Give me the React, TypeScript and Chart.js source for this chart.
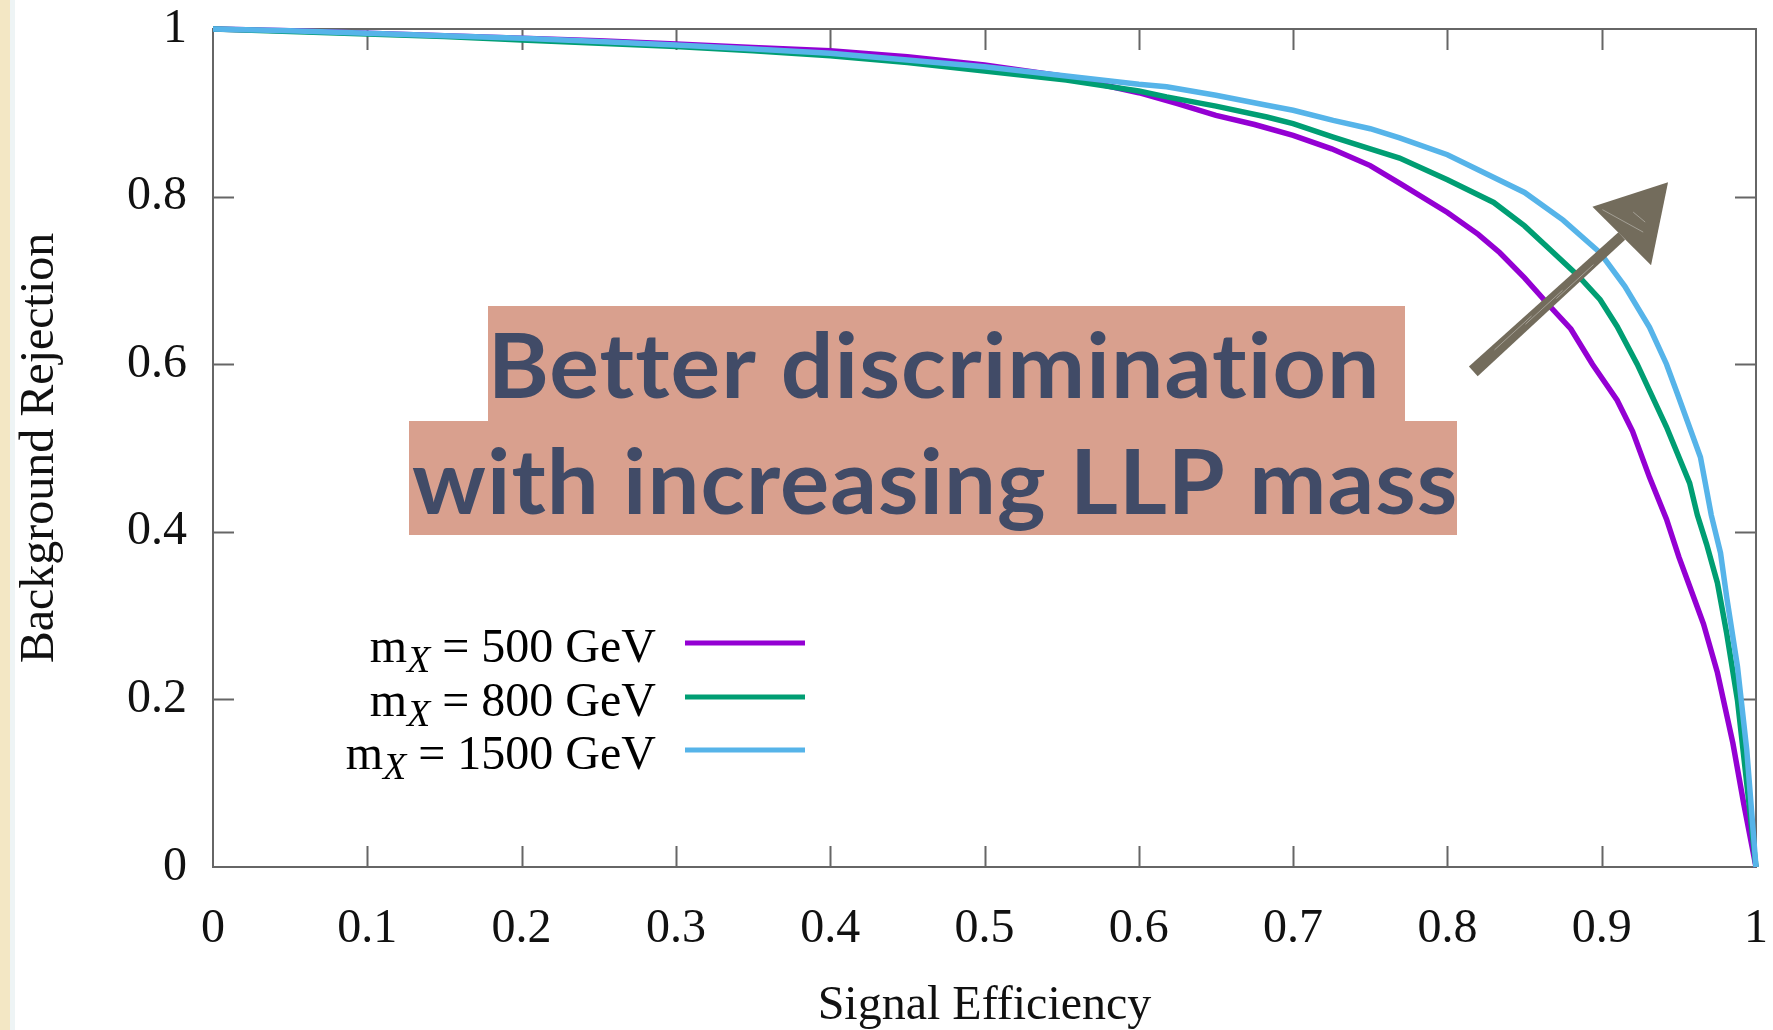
import React, { useEffect, useRef } from "react";
import { Chart, registerables } from "chart.js";

Chart.register(...registerables);

// ---------- data ----------
const massesGeV = [500, 800, 1500];
const seriesColors = ["#9400d3", "#009e73", "#56b4e9"];

const eff500 = [0, 0.05, 0.1, 0.15, 0.2, 0.25, 0.3, 0.35, 0.4, 0.45, 0.5, 0.55, 0.575, 0.6, 0.625, 0.65, 0.675, 0.7, 0.725, 0.75, 0.77, 0.8, 0.82, 0.834, 0.85, 0.867, 0.88, 0.894, 0.91, 0.92, 0.931, 0.942, 0.95, 0.957, 0.966, 0.975, 0.985, 0.992, 1.0];
const rej500 = [1.0, 0.998, 0.995, 0.992, 0.989, 0.986, 0.982, 0.978, 0.974, 0.967, 0.957, 0.944, 0.934, 0.924, 0.911, 0.897, 0.886, 0.873, 0.857, 0.837, 0.815, 0.781, 0.755, 0.733, 0.703, 0.668, 0.642, 0.6, 0.557, 0.52, 0.465, 0.415, 0.37, 0.335, 0.29, 0.232, 0.148, 0.076, 0];

const eff800 = [0, 0.05, 0.1, 0.15, 0.2, 0.25, 0.3, 0.35, 0.4, 0.45, 0.5, 0.553, 0.6, 0.618, 0.65, 0.683, 0.7, 0.726, 0.75, 0.769, 0.8, 0.83, 0.85, 0.867, 0.885, 0.899, 0.91, 0.923, 0.942, 0.957, 0.962, 0.968, 0.975, 0.981, 0.988, 0.994, 1.0];
const rej800 = [1.0, 0.997, 0.994, 0.991, 0.987, 0.983, 0.979, 0.974, 0.968, 0.96, 0.95, 0.939, 0.926, 0.919, 0.908, 0.895, 0.887, 0.871, 0.857, 0.846, 0.82, 0.793, 0.765, 0.736, 0.705, 0.677, 0.645, 0.6, 0.525, 0.458, 0.42, 0.385, 0.339, 0.279, 0.199, 0.1, 0];

const eff1500 = [0, 0.05, 0.1, 0.15, 0.2, 0.25, 0.3, 0.35, 0.4, 0.45, 0.5, 0.553, 0.6, 0.618, 0.65, 0.683, 0.7, 0.726, 0.75, 0.769, 0.8, 0.85, 0.875, 0.899, 0.915, 0.931, 0.942, 0.949, 0.964, 0.971, 0.977, 0.981, 0.988, 0.994, 1.0];
const rej1500 = [1.0, 0.998, 0.995, 0.992, 0.989, 0.985, 0.981, 0.976, 0.971, 0.963, 0.955, 0.944, 0.934, 0.931, 0.921, 0.909, 0.903, 0.891, 0.881, 0.87, 0.85, 0.805, 0.772, 0.733, 0.693, 0.644, 0.6, 0.565, 0.489, 0.42, 0.375, 0.322, 0.239, 0.14, 0];

const xTicks = [0, 0.1, 0.2, 0.3, 0.4, 0.5, 0.6, 0.7, 0.8, 0.9, 1];
const yTicks = [0, 0.2, 0.4, 0.6, 0.8, 1];

const xTitle = "Signal Efficiency";
const yTitle = "Background Rejection";
const annotationLines = ["Better discrimination", "with increasing LLP mass"];

// arrow annotation in data space: tail, tip, and the two head corners
const arrowTail = { x: 0.817, y: 0.591 };
const arrowTip = { x: 0.943, y: 0.817 };
const arrowHeadA = { x: 0.894, y: 0.788 };
const arrowHeadB = { x: 0.932, y: 0.718 };

const W = 1773;
const H = 1030;
const SERIF = "'Liberation Serif', 'DejaVu Serif', serif";
const FS = 48;

const fmt = (v: number) => String(Number(v.toFixed(2)));

const overlayPlugin = {
  id: "overlay",
  beforeDraw(chart: any) {
    const { ctx, width, height } = chart;
    ctx.save();
    ctx.fillStyle = "#ffffff";
    ctx.fillRect(0, 0, width, height);
    ctx.fillStyle = "#f3e7c4";
    ctx.fillRect(0, 0, 10, height);
    ctx.fillStyle = "#eef4f5";
    ctx.fillRect(10, 0, 5, height);
    ctx.restore();
  },
  beforeDatasetsDraw(chart: any) {
    const { ctx, chartArea, scales } = chart;
    const { left, right, top, bottom } = chartArea;
    const xs = scales.x;
    const ys = scales.y;
    ctx.save();
    ctx.strokeStyle = "#666666";
    ctx.lineWidth = 2;
    ctx.strokeRect(left, top, right - left, bottom - top);
    const tl = 21;
    ctx.beginPath();
    xTicks.forEach((v) => {
      if (v === 0 || v === 1) return;
      const px = Math.round(xs.getPixelForValue(v)) + 0.5;
      ctx.moveTo(px, bottom);
      ctx.lineTo(px, bottom - tl);
      ctx.moveTo(px, top);
      ctx.lineTo(px, top + tl);
    });
    yTicks.forEach((v) => {
      if (v === 0 || v === 1) return;
      const py = Math.round(ys.getPixelForValue(v)) + 0.5;
      ctx.moveTo(left, py);
      ctx.lineTo(left + tl, py);
      ctx.moveTo(right, py);
      ctx.lineTo(right - tl, py);
    });
    ctx.stroke();
    ctx.restore();
  },
  afterDatasetsDraw(chart: any) {
    const { ctx, scales } = chart;
    const xs = scales.x;
    const ys = scales.y;
    ctx.save();

    // ---- legend ----
    const textRight = 656;
    const lineX0 = 685;
    const lineX1 = 805;
    const rowY = [643, 697, 750];
    massesGeV.forEach((m, i) => {
      const y = rowY[i];
      const base = y + 19;
      const main = `${FS}px ${SERIF}`;
      const sub = `italic ${38}px ${SERIF}`;
      const rest = ` = ${m} GeV`;
      ctx.font = main;
      const wm = ctx.measureText("m").width;
      const wr = ctx.measureText(rest).width;
      ctx.font = sub;
      const wx = ctx.measureText("X").width;
      const x0 = textRight - (wm + wx + wr);
      ctx.fillStyle = "#000000";
      ctx.textBaseline = "alphabetic";
      ctx.textAlign = "left";
      ctx.font = main;
      ctx.fillText("m", x0, base);
      ctx.font = sub;
      ctx.fillText("X", x0 + wm, base + 10);
      ctx.font = main;
      ctx.fillText(rest, x0 + wm + wx, base);
      ctx.strokeStyle = seriesColors[i];
      ctx.lineWidth = 5;
      ctx.beginPath();
      ctx.moveTo(lineX0, y);
      ctx.lineTo(lineX1, y);
      ctx.stroke();
    });

    // ---- highlighted annotation ----
    const boxes = [
      { l: 488, t: 306, r: 1405, b: 421, tl: 495, tw: 880, base: 398 },
      { l: 409, t: 421, r: 1457, b: 535, tl: 412, tw: 1043, base: 514 },
    ];
    ctx.fillStyle = "#d9a08e";
    boxes.forEach((bx) => ctx.fillRect(bx.l, bx.t, bx.r - bx.l, bx.b - bx.t));
    ctx.fillStyle = "#414b67";
    ctx.font = "bold 89px Lato, 'Open Sans', sans-serif";
    try {
      (ctx as any).letterSpacing = "1px";
    } catch (e) {}
    ctx.textBaseline = "alphabetic";
    ctx.textAlign = "left";
    annotationLines.forEach((txt, i) => {
      const bx = boxes[i];
      const mt = ctx.measureText(txt);
      const gw = mt.actualBoundingBoxLeft + mt.actualBoundingBoxRight;
      const sx = bx.tw / gw;
      ctx.save();
      ctx.translate(bx.tl, bx.base);
      ctx.scale(sx, 1);
      ctx.fillText(txt, mt.actualBoundingBoxLeft, 0);
      ctx.restore();
    });
    try {
      (ctx as any).letterSpacing = "0px";
    } catch (e) {}

    // ---- sketchy arrow ----
    const P = (p: { x: number; y: number }) => ({ x: xs.getPixelForValue(p.x), y: ys.getPixelForValue(p.y) });
    const tail = P(arrowTail);
    const tip = P(arrowTip);
    const ha = P(arrowHeadA);
    const hb = P(arrowHeadB);
    const baseMid = { x: (ha.x + hb.x) / 2, y: (ha.y + hb.y) / 2 };
    const dx = baseMid.x - tail.x;
    const dy = baseMid.y - tail.y;
    const len = Math.hypot(dx, dy);
    const nx = -dy / len;
    const ny = dx / len;
    const col = "#736c5c";
    ctx.fillStyle = col;
    ctx.beginPath();
    ctx.moveTo(tail.x + nx * 6, tail.y + ny * 6);
    ctx.lineTo(baseMid.x + nx * 5, baseMid.y + ny * 5);
    ctx.lineTo(baseMid.x - nx * 5, baseMid.y - ny * 5);
    ctx.lineTo(tail.x - nx * 7, tail.y - ny * 7);
    ctx.closePath();
    ctx.fill();
    ctx.beginPath();
    ctx.moveTo(tip.x, tip.y);
    ctx.lineTo(ha.x, ha.y);
    ctx.lineTo(hb.x, hb.y);
    ctx.closePath();
    ctx.fill();
    // light streaks for a hand-drawn texture
    ctx.strokeStyle = "rgba(255,255,255,0.35)";
    ctx.lineWidth = 1;
    ctx.beginPath();
    for (let k = 0; k < 3; k++) {
      const o = -2 + k * 2;
      const s = 0.15 + k * 0.2;
      ctx.moveTo(tail.x + dx * s + nx * o, tail.y + dy * s + ny * o);
      ctx.lineTo(tail.x + dx * (s + 0.25) + nx * o, tail.y + dy * (s + 0.25) + ny * o);
    }
    const hc = { x: (tip.x + ha.x + hb.x) / 3, y: (tip.y + ha.y + hb.y) / 3 };
    ctx.moveTo(ha.x + 10, ha.y + 3);
    ctx.lineTo(hc.x + 6, hc.y + 14);
    ctx.moveTo(hc.x - 4, hc.y - 6);
    ctx.lineTo(hc.x + 8, hc.y + 4);
    ctx.stroke();

    ctx.restore();
  },
};

export default function App() {
  const ref = useRef<HTMLCanvasElement | null>(null);

  useEffect(() => {
    if (!ref.current) return;
    const effs = [eff500, eff800, eff1500];
    const rejs = [rej500, rej800, rej1500];
    const datasets = massesGeV.map((m, i) => ({
      label: `m_X = ${m} GeV`,
      data: effs[i].map((x, j) => ({ x, y: rejs[i][j] })),
      borderColor: seriesColors[i],
      backgroundColor: seriesColors[i],
      borderWidth: 5.5,
      pointRadius: 0,
      tension: 0,
      fill: false,
      clip: false as any,
      order: massesGeV.length - i,
    }));

    const tickFont = { family: SERIF, size: FS };
    const chart = new Chart(ref.current, {
      type: "line",
      data: { datasets },
      plugins: [overlayPlugin],
      options: {
        animation: false,
        responsive: false,
        maintainAspectRatio: false,
        layout: { padding: { top: 29, right: 17, left: 0, bottom: 0 } },
        plugins: { legend: { display: false }, tooltip: { enabled: false }, title: { display: false } },
        scales: {
          x: {
            type: "linear",
            min: 0,
            max: 1,
            afterBuildTicks: (s: any) => {
              s.ticks = xTicks.map((v) => ({ value: v }));
            },
            afterFit: (s: any) => {
              s.height = 163;
              s.paddingLeft = 0;
              s.paddingRight = 0;
              s.paddingTop = 0;
              s.paddingBottom = 0;
            },
            grid: { display: false, drawTicks: false },
            border: { display: false },
            ticks: {
              font: tickFont,
              color: "#111111",
              padding: 34,
              maxRotation: 0,
              autoSkip: false,
              callback: (v: any) => fmt(Number(v)),
            },
            title: {
              display: true,
              text: xTitle,
              font: { family: SERIF, size: FS, lineHeight: 1 },
              color: "#111111",
              padding: { top: 0, bottom: 0 },
            },
          },
          y: {
            type: "linear",
            min: 0,
            max: 1,
            afterBuildTicks: (s: any) => {
              s.ticks = yTicks.map((v) => ({ value: v }));
            },
            afterFit: (s: any) => {
              s.width = 213;
              s.paddingLeft = 0;
              s.paddingRight = 0;
              s.paddingTop = 0;
              s.paddingBottom = 0;
            },
            grid: { display: false, drawTicks: false },
            border: { display: false },
            ticks: {
              font: tickFont,
              color: "#111111",
              padding: 26,
              autoSkip: false,
              callback: (v: any) => fmt(Number(v)),
            },
            title: {
              display: true,
              text: yTitle,
              font: { family: SERIF, size: FS, lineHeight: 1 },
              color: "#111111",
              padding: { top: 16, bottom: 0 },
            },
          },
        },
      },
    });
    return () => chart.destroy();
  }, []);

  return (
    <div style={{ position: "absolute", left: 0, top: 0, width: W, height: H, background: "#fff" }}>
      <canvas ref={ref} width={W} height={H} style={{ display: "block", width: W, height: H }} />
    </div>
  );
}
